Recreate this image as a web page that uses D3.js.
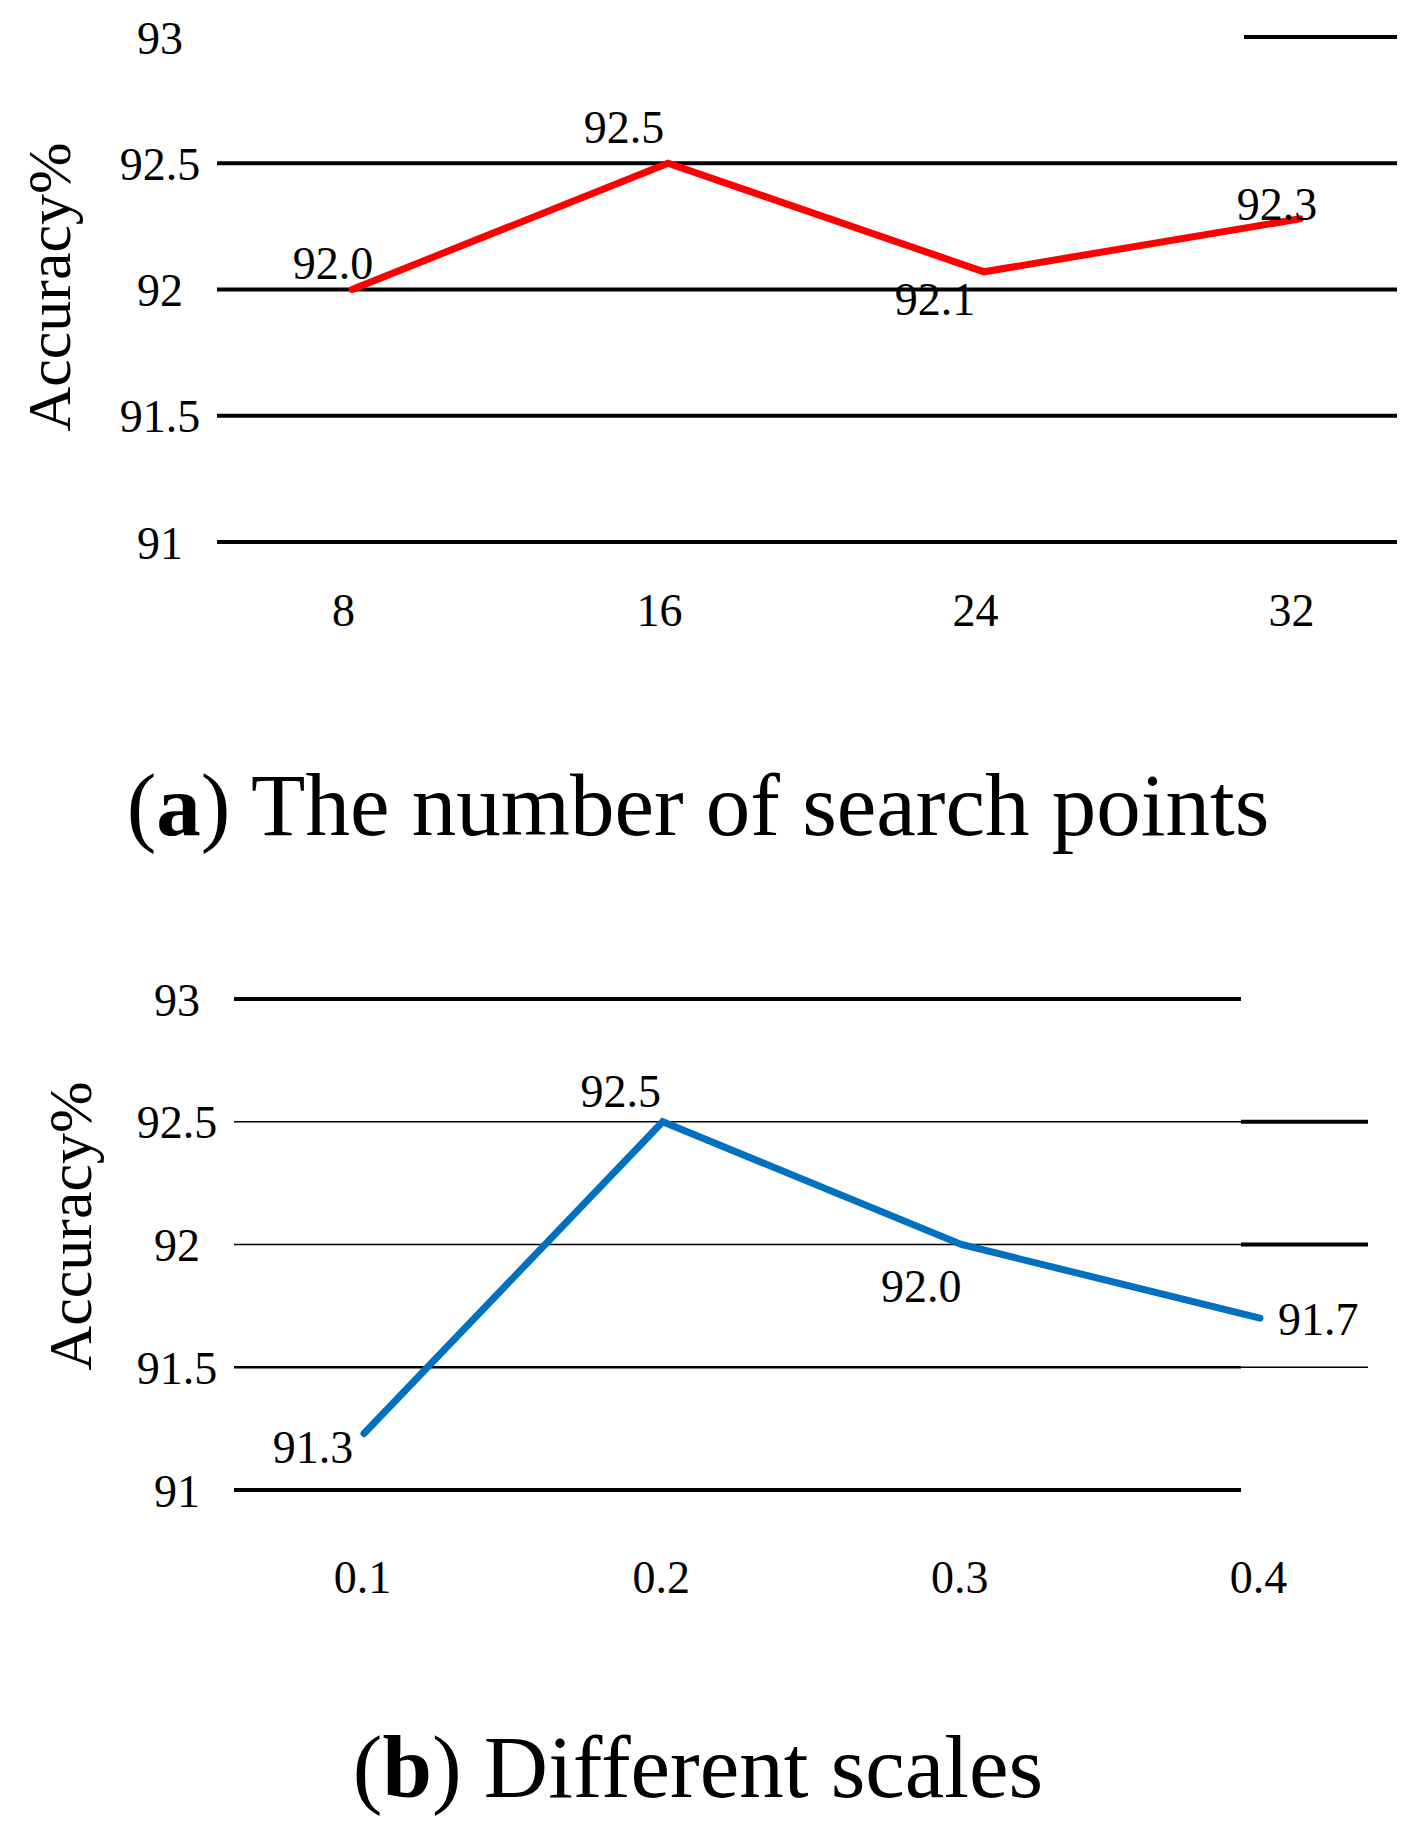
<!DOCTYPE html>
<html>
<head>
<meta charset="utf-8">
<script src="https://cdn.jsdelivr.net/npm/d3@7"></script>
<style>
  html, body { margin: 0; padding: 0; background: #fff; }
  svg { display: block; }
  text { font-family: "Liberation Serif", "Times New Roman", serif; fill: #000; }
</style>
</head>
<body>
<div id="chart"></div>
<script>
// data
const searchPoints = ["8", "16", "24", "32"];
const searchAcc = [92.0, 92.5, 92.07, 92.28];
const searchLabels = ["92.0", "92.5", "92.1", "92.3"];

const scaleValues = ["0.1", "0.2", "0.3", "0.4"];
const scaleAcc = [91.23, 92.5, 92.0, 91.7];
const scaleLabels = ["91.3", "92.5", "92.0", "91.7"];

const yTicks = [91, 91.5, 92, 92.5, 93];

const W = 1424, H = 1836;

const svg = d3.select("#chart").append("svg")
    .attr("width", W)
    .attr("height", H);

// layout of each panel (positions only, no data)
const panels = [
  {
    cats: searchPoints, values: searchAcc, labels: searchLabels,
    color: "#ff0000",
    letter: "a", caption: " The number of search points", captionY: 835,
    top: 37, bottom: 542,
    left: 217, right: 1244, extRight: 1397,
    x0: 352, x1: 1300,
    // stroke widths of each gridline: [main part, right extension]
    grid: [[4, 4], [4, 4], [4, 4], [4, 4], [0, 4]],
    tickX: 160, xTickY: 626, xTickDx: -9,
    titleX: 49, titleY: 287,
    labelOff: [[-19, -11, "middle"], [-44, -20, "middle"], [-49, 43, "middle"], [-23, 1, "middle"]]
  },
  {
    cats: scaleValues, values: scaleAcc, labels: scaleLabels,
    color: "#0070c0",
    letter: "b", caption: " Different scales", captionY: 1797,
    top: 999, bottom: 1490,
    left: 234, right: 1241, extRight: 1368,
    x0: 364, x1: 1260,
    grid: [[4, 0], [2.5, 1.5], [1.5, 4], [1.5, 4], [4, 0]],
    tickX: 177, xTickY: 1593, xTickDx: -2,
    titleX: 70, titleY: 1226,
    labelOff: [[-51, 29, "middle"], [-42, -15, "middle"], [-40, 57, "middle"], [18, 17, "start"]]
  }
];

panels.forEach(drawPanel);

function drawPanel(p) {
    const g = svg.append("g");

    const x = d3.scalePoint().domain(p.cats).range([p.x0, p.x1]);
    const y = d3.scaleLinear().domain([91, 93]).range([p.bottom, p.top]);

    // gridlines (main part + short extension on the right)
    yTicks.forEach((t, i) => {
        const [wMain, wExt] = p.grid[i];
        if (wMain > 0) {
            g.append("line")
                .attr("x1", p.left).attr("x2", p.right)
                .attr("y1", y(t)).attr("y2", y(t))
                .attr("stroke", "#000").attr("stroke-width", wMain);
        }
        if (wExt > 0) {
            g.append("line")
                .attr("x1", p.right).attr("x2", p.extRight)
                .attr("y1", y(t)).attr("y2", y(t))
                .attr("stroke", "#000").attr("stroke-width", wExt);
        }
    });

    // y tick labels
    const yAxis = g.append("g")
        .attr("transform", `translate(${p.tickX},0)`)
        .call(d3.axisLeft(y).tickValues(yTicks).tickSize(0).tickFormat(d3.format("~g")));
    yAxis.select(".domain").remove();
    yAxis.selectAll("text")
        .attr("x", 0)
        .attr("dy", "0.35em")
        .attr("text-anchor", "middle")
        .style("font-family", '"Liberation Serif", serif')
        .style("font-size", "46px");

    // x tick labels
    const xAxis = g.append("g")
        .attr("transform", `translate(${p.xTickDx},${p.xTickY})`)
        .call(d3.axisBottom(x).tickSize(0));
    xAxis.select(".domain").remove();
    xAxis.selectAll("text")
        .attr("y", 0)
        .attr("dy", 0)
        .style("font-family", '"Liberation Serif", serif')
        .style("font-size", "46px");

    // y title
    g.append("text")
        .attr("transform", `translate(${p.titleX},${p.titleY}) rotate(-90)`)
        .attr("text-anchor", "middle")
        .attr("dominant-baseline", "central")
        .style("font-size", "62px")
        .text("Accuracy%");

    // line
    const line = d3.line()
        .x((d, i) => x(p.cats[i]))
        .y(d => y(d));

    g.append("path")
        .datum(p.values)
        .attr("fill", "none")
        .attr("stroke", p.color)
        .attr("stroke-width", 7)
        .attr("stroke-linecap", "round")
        .attr("stroke-linejoin", "miter")
        .attr("d", line);

    // value labels
    g.selectAll(".vlabel")
        .data(p.values)
        .enter().append("text")
        .attr("class", "vlabel")
        .attr("x", (d, i) => x(p.cats[i]) + p.labelOff[i][0])
        .attr("y", (d, i) => y(d) + p.labelOff[i][1])
        .attr("text-anchor", (d, i) => p.labelOff[i][2])
        .style("font-size", "46px")
        .text((d, i) => p.labels[i]);

    // caption
    const cap = g.append("text")
        .attr("x", W / 2 - 14)
        .attr("y", p.captionY)
        .attr("text-anchor", "middle")
        .style("font-size", "89px");
    cap.append("tspan").text("(");
    cap.append("tspan").style("font-weight", "bold").text(p.letter);
    cap.append("tspan").text(")" + p.caption);
}
</script>
</body>
</html>
